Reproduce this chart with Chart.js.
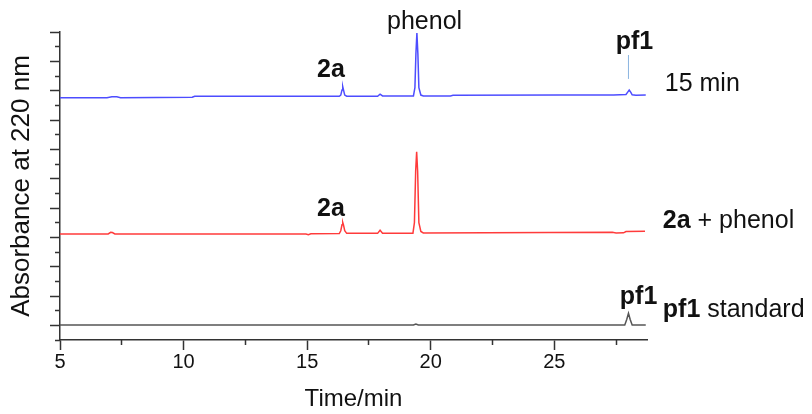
<!DOCTYPE html>
<html lang="en">
<head>
    <meta charset="UTF-8">
    <title>HPLC traces</title>
    <script src="https://cdn.jsdelivr.net/npm/chart.js"></script>
    <style>
        body {
            margin: 0;
            background: #fff;
        }
        .chart-box {
            width: 812px;
            height: 414px;
        }
    </style>
</head>
<body>

    <div class="chart-box">
        <canvas id="hplcChart"></canvas>
    </div>

    <script>
        // 15 min reaction (blue)
        const blueTime = [5.0, 6.9, 7.1, 7.3, 7.45, 10.35, 10.45, 16.3, 16.36, 16.41, 16.44, 16.47, 16.52, 16.6,
            17.85, 17.95, 18.05, 19.3, 19.36, 19.4, 19.44, 19.48, 19.52, 19.6, 19.7, 20.8, 20.9,
            25.2, 27.4, 27.9, 27.97, 28.03, 28.09, 28.15, 28.3, 28.7];
        const blueAbs = [16.52, 16.52, 16.58, 16.58, 16.52, 16.55, 16.62, 16.62, 16.7, 17.05, 17.27, 17.05, 16.7, 16.62,
            16.62, 16.76, 16.64, 16.64, 17.2, 19.5, 20.93, 19.5, 17.2, 16.7, 16.64, 16.64, 16.68,
            16.70, 16.70, 16.74, 16.9, 17.04, 16.9, 16.72, 16.68, 16.70];

        // 2a + phenol (red)
        const redTime = [5.0, 6.95, 7.05, 7.12, 7.22, 14.95, 15.05, 15.15, 16.3, 16.36, 16.41, 16.44, 16.47, 16.52, 16.6,
            17.85, 17.95, 18.05, 19.28, 19.34, 19.39, 19.43, 19.47, 19.52, 19.6, 19.7, 27.35, 27.5, 27.8, 27.9, 28.67];
        const redAbs = [7.23, 7.23, 7.34, 7.33, 7.23, 7.23, 7.18, 7.24, 7.26, 7.45, 7.85, 8.02, 7.85, 7.45, 7.27,
            7.27, 7.48, 7.28, 7.28, 8.0, 11.5, 12.84, 11.5, 8.0, 7.4, 7.3, 7.34, 7.30, 7.31, 7.40, 7.41];

        // pf1 standard (black)
        const blackTime = [5.0, 19.3, 19.4, 19.5, 27.85, 27.93, 28.0, 28.07, 28.15, 28.7];
        const blackAbs = [1.02, 1.02, 1.09, 1.02, 1.02, 1.4, 1.82, 1.4, 1.02, 1.02];

        // pf1 marker above the blue trace
        const markerTime = [28.0, 28.0];
        const markerAbs = [17.8, 19.43];

        const xMajorTicks = [5, 10, 15, 20, 25];
        const xMinorTicks = [7.5, 12.5, 17.5, 22.5, 27.5];
        const yMajorTicks = [1, 3, 5, 7, 9, 11, 13, 15, 17, 19, 21];
        const yMinorTicks = [0, 2, 4, 6, 8, 10, 12, 14, 16, 18, 20];

        const toPoints = (xs, ys) => xs.map((x, i) => ({ x: x, y: ys[i] }));

        // text labels: [bold part, normal part, time, absorbance, align]
        const labels = [
            ['', 'phenol', 19.75, 21.2, 'center'],
            ['2a', '', 15.96, 17.9, 'center'],
            ['pf1', '', 28.24, 19.87, 'center'],
            ['', '15 min', 29.47, 16.98, 'left'],
            ['2a', '', 15.96, 8.45, 'center'],
            ['2a', ' + phenol', 29.39, 7.67, 'left'],
            ['pf1', '', 28.41, 2.45, 'center'],
            ['pf1', ' standard', 29.39, 1.57, 'left']
        ];

        const textPlugin = {
            id: 'peakText',
            afterDraw(chart) {
                const ctx = chart.ctx;
                const xs = chart.scales.x, ys = chart.scales.y;
                const boldFont = 'bold 25px "Liberation Sans", Arial, sans-serif';
                const normFont = '25px "Liberation Sans", Arial, sans-serif';
                ctx.save();
                ctx.fillStyle = '#111';
                ctx.textBaseline = 'alphabetic';
                ctx.textAlign = 'left';
                labels.forEach(l => {
                    const px = xs.getPixelForValue(l[2]);
                    const py = ys.getPixelForValue(l[3]);
                    ctx.font = boldFont;
                    const wb = ctx.measureText(l[0]).width;
                    ctx.font = normFont;
                    const wn = ctx.measureText(l[1]).width;
                    let x0 = l[4] === 'center' ? px - (wb + wn) / 2 : px;
                    ctx.font = boldFont;
                    ctx.fillText(l[0], x0, py);
                    ctx.font = normFont;
                    ctx.fillText(l[1], x0 + wb, py);
                });
                ctx.restore();
            }
        };

        Chart.defaults.font.family = '"Liberation Sans", Arial, sans-serif';
        Chart.defaults.color = '#111';

        function trace(data, color) {
            return {
                data: data,
                borderColor: color,
                borderWidth: 1.5,
                pointRadius: 0,
                tension: 0,
                fill: false
            };
        }

        new Chart(document.getElementById('hplcChart').getContext('2d'), {
            type: 'line',
            data: {
                datasets: [
                    trace(toPoints(blueTime, blueAbs), '#4d4dff'),
                    trace(toPoints(redTime, redAbs), '#ff3b3b'),
                    trace(toPoints(blackTime, blackAbs), '#555555'),
                    Object.assign(trace(toPoints(markerTime, markerAbs), '#8ab4e0'), { borderWidth: 1 })
                ]
            },
            options: {
                responsive: true,
                maintainAspectRatio: false,
                animation: false,
                layout: { padding: { top: 32, right: 165, left: 0, bottom: 0 } },
                plugins: { legend: { display: false }, tooltip: { enabled: false } },
                scales: {
                    x: {
                        type: 'linear', position: 'bottom', weight: 1,
                        min: 5, max: 28.75,
                        afterBuildTicks: s => { s.ticks = xMajorTicks.map(v => ({ value: v })); },
                        afterFit: s => { s.height = 74; },
                        ticks: { font: { size: 20 }, padding: 0, maxRotation: 0, color: '#111' },
                        grid: { drawOnChartArea: false, tickLength: 10, tickColor: '#333', tickWidth: 1.5 },
                        border: { color: '#333', width: 1.5 },
                        title: { display: true, text: 'Time/min', font: { size: 24 }, padding: { top: 0, bottom: 0 } }
                    },
                    xMinor: {
                        type: 'linear', position: 'bottom', weight: 0,
                        min: 5, max: 28.75,
                        afterBuildTicks: s => { s.ticks = xMinorTicks.map(v => ({ value: v })); },
                        afterFit: s => { s.height = 0; },
                        ticks: { display: false },
                        grid: { drawOnChartArea: false, tickLength: 5, tickColor: '#333', tickWidth: 1.5 },
                        border: { display: false }
                    },
                    y: {
                        type: 'linear', position: 'left', weight: 1,
                        min: 0, max: 21,
                        afterBuildTicks: s => { s.ticks = yMajorTicks.map(v => ({ value: v })); },
                        afterFit: s => { s.width = 60; },
                        ticks: { display: false },
                        grid: { drawOnChartArea: false, tickLength: 10, tickColor: '#333', tickWidth: 1.5 },
                        border: { color: '#333', width: 1.5 },
                        title: { display: true, text: 'Absorbance at 220 nm', font: { size: 26 }, padding: { top: 6, bottom: 0 } }
                    },
                    yMinor: {
                        type: 'linear', position: 'left', weight: 0,
                        min: 0, max: 21,
                        afterBuildTicks: s => { s.ticks = yMinorTicks.map(v => ({ value: v })); },
                        afterFit: s => { s.width = 0; },
                        ticks: { display: false },
                        grid: { drawOnChartArea: false, tickLength: 5, tickColor: '#333', tickWidth: 1.5 },
                        border: { display: false }
                    }
                }
            },
            plugins: [textPlugin]
        });
    </script>

</body>
</html>
